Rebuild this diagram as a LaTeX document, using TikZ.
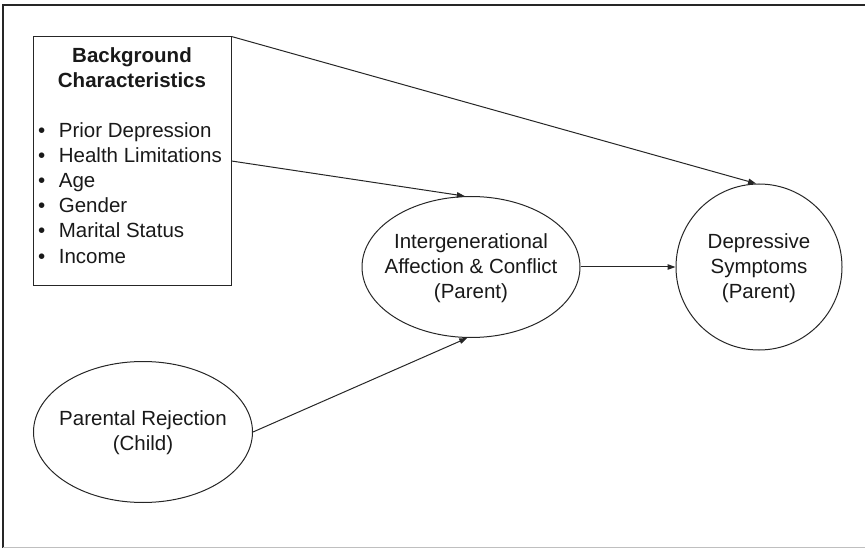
\documentclass[tikz,border=0pt]{standalone}
\usepackage{fontspec}
\setmainfont{Liberation Sans}
\usetikzlibrary{arrows.meta,shapes.geometric}
\begin{document}
\begin{tikzpicture}[x=1pt,y=-1pt,
  ink/.style={draw=black!85, line width=1pt},
  txt/.style={font=\fontsize{20.5}{25}\selectfont, text=black!90, inner sep=0pt},
  conn/.style={ink, -{Triangle[length=8pt,width=5.5pt]}},
  bul/.style={txt, anchor=base west}
]
\useasboundingbox (0,0) rectangle (865,548);
\draw[black!85, line width=1.2pt] (3,548) -- (3,5) -- (865,5);
\draw[black!25, line width=0.8pt] (3,547) -- (865,547);

\node[ink, rectangle, minimum width=198pt, minimum height=248pt, inner sep=0pt] (bg) at (132,161) {};
\node[txt, font=\fontsize{20.5}{25}\selectfont\bfseries, align=center] (bgt) at (132,68) {Background\\Characteristics};
\node[bul] (b1) at (38,138) {\textbullet\hspace{13.5pt}Prior Depression};
\node[bul] (b2) at (38,163) {\textbullet\hspace{13.5pt}Health Limitations};
\node[bul] (b3) at (38,188) {\textbullet\hspace{13.5pt}Age};
\node[bul] (b4) at (38,213) {\textbullet\hspace{13.5pt}Gender};
\node[bul] (b5) at (38,238) {\textbullet\hspace{13.5pt}Marital Status};
\node[bul] (b6) at (38,263) {\textbullet\hspace{13.5pt}Income};

\node[ink, ellipse, minimum width=218pt, minimum height=141pt, inner sep=0pt] (iac) at (471,267) {};
\node[txt, align=center] (iact) at (471,268) {Intergenerational\\Affection \& Conflict\\(Parent)};

\node[ink, circle, minimum size=166pt, inner sep=0pt] (ds) at (759,267) {};
\node[txt, align=center] (dst) at (759,268) {Depressive\\Symptoms\\(Parent)};

\node[ink, ellipse, minimum width=219pt, minimum height=141pt, inner sep=0pt] (pr) at (143,432) {};
\node[txt, align=center] (prt) at (143,433) {Parental Rejection\\(Child)};

\draw[conn] (bg.north east) -- (ds.92);
\draw[conn] (bg.east) -- (iac.95);
\draw[conn] (pr.east) -- (iac.-93);
\draw[conn] (iac.east) -- (ds.west);
\end{tikzpicture}
\end{document}
